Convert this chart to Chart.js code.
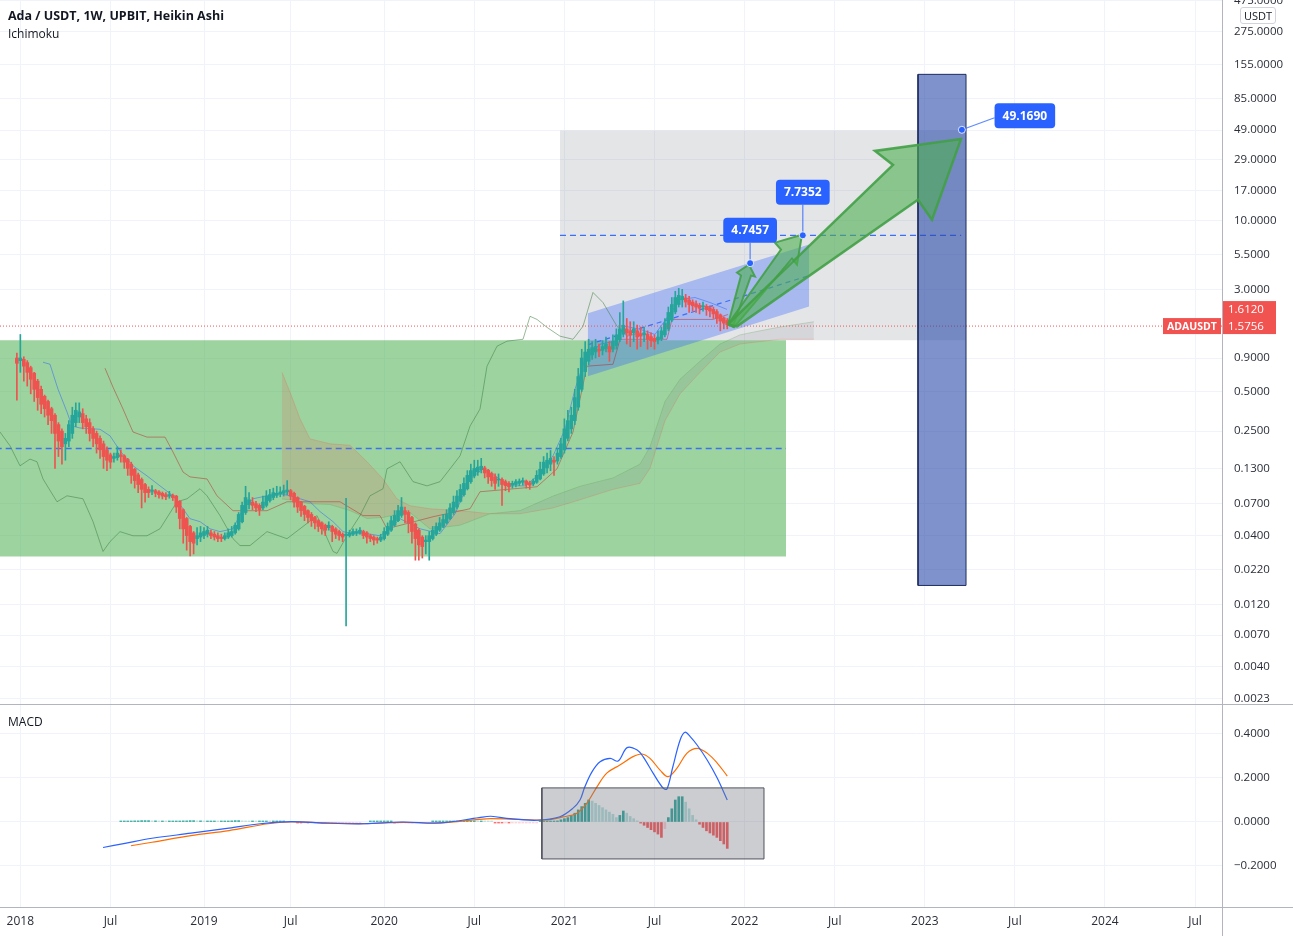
<!DOCTYPE html>
<html>
<head>
<meta charset="utf-8">
<script src="https://cdn.jsdelivr.net/npm/chart.js@4.4.1/dist/chart.umd.min.js"></script>
<style>
  html,body{margin:0;padding:0;background:#fff;}
  body{width:1293px;height:936px;position:relative;overflow:hidden;font-family:'Open Sans',Roboto,sans-serif;color:#131722;}
  canvas{position:absolute;left:0;}
  #main{top:0;}
  #macd{top:705px;}
  .hl{position:absolute;left:0;width:1293px;height:1px;background:#b2b5be;}
  .vl{position:absolute;left:1222px;top:0;width:1px;height:936px;background:#b2b5be;}
  .lbl{position:absolute;white-space:nowrap;}
</style>
</head>
<body>
<canvas id="main" width="1293" height="704"></canvas>
<canvas id="macd" width="1293" height="231"></canvas>
<div class="hl" style="top:704px"></div>
<div class="hl" style="top:907px"></div>
<div class="vl"></div>
<div class="lbl" style="left:8px;top:7px;font-size:12.5px;font-weight:700;">Ada / USDT, 1W, UPBIT, Heikin Ashi</div>
<div class="lbl" style="left:8px;top:25px;font-size:12px;">Ichimoku</div>
<div class="lbl" style="left:8px;top:713px;font-size:12px;">MACD</div>
<div class="lbl" style="left:1240px;top:7px;font-size:11px;border:1px solid #d1d4dc;border-radius:3px;padding:0 3px;line-height:15px;color:#131722;background:#fff">USDT</div>
<script>
// ---------------- DATA ----------------
// weekly Heikin Ashi candles; first candle is the week before 2018-01-01 (bar -1)
const firstBar = -1;
const O = [0.90,0.86,0.88,0.83,0.76,0.69,0.60,0.52,0.46,0.42,
0.37,0.33,0.28,0.25,0.20,0.21,0.24,0.29,0.32,0.34,
0.31,0.29,0.26,0.24,0.22,0.20,0.18,0.165,0.155,0.157,
0.165,0.162,0.152,0.14,0.128,0.116,0.107,0.098,0.09,0.087,
0.088,0.086,0.084,0.082,0.080,0.081,0.080,0.073,0.063,0.054,
0.047,0.042,0.038,0.039,0.040,0.041,0.042,0.041,0.040,0.039,
0.038,0.039,0.040,0.042,0.045,0.051,0.060,0.069,0.072,0.070,
0.068,0.065,0.068,0.074,0.078,0.081,0.083,0.084,0.086,0.088,
0.084,0.078,0.072,0.067,0.062,0.058,0.055,0.052,0.050,0.048,
0.046,0.047,0.045,0.043,0.041,0.040,0.040,0.041,0.042,0.042,
0.043,0.042,0.040,0.039,0.038,0.037,0.038,0.041,0.044,0.048,
0.052,0.057,0.062,0.060,0.055,0.049,0.044,0.039,0.036,0.036,
0.038,0.041,0.044,0.047,0.050,0.054,0.060,0.066,0.073,0.082,
0.091,0.103,0.114,0.122,0.127,0.131,0.126,0.119,0.112,0.106,
0.107,0.103,0.100,0.097,0.098,0.100,0.102,0.104,0.101,0.099,
0.102,0.108,0.118,0.131,0.140,0.150,0.148,0.160,0.180,0.220,
0.260,0.300,0.380,0.520,0.710,0.850,0.950,1.000,1.050,1.030,
1.060,1.100,1.050,1.120,1.240,1.370,1.500,1.450,1.400,1.450,
1.380,1.350,1.370,1.310,1.270,1.230,1.260,1.350,1.500,1.750,
2.020,2.300,2.500,2.580,2.490,2.400,2.330,2.270,2.210,2.230,
2.170,2.110,2.030,1.920,1.820,1.740];
const H = [0.98,1.36,0.92,0.86,0.78,0.70,0.62,0.55,0.47,0.43,
0.38,0.34,0.29,0.26,0.24,0.30,0.38,0.41,0.41,0.37,
0.33,0.31,0.27,0.25,0.23,0.21,0.19,0.17,0.17,0.19,
0.18,0.165,0.155,0.145,0.13,0.12,0.11,0.10,0.094,0.096,
0.09,0.088,0.086,0.085,0.087,0.083,0.081,0.074,0.064,0.055,
0.048,0.043,0.046,0.047,0.046,0.047,0.044,0.043,0.042,0.041,
0.042,0.045,0.047,0.050,0.060,0.072,0.095,0.085,0.078,0.073,
0.070,0.080,0.088,0.090,0.092,0.095,0.094,0.097,0.105,0.090,
0.086,0.079,0.073,0.068,0.063,0.060,0.056,0.053,0.051,0.049,
0.051,0.048,0.046,0.044,0.042,0.077,0.044,0.045,0.045,0.046,
0.044,0.043,0.041,0.040,0.039,0.041,0.046,0.050,0.056,0.062,
0.068,0.078,0.066,0.062,0.056,0.050,0.045,0.040,0.040,0.043,
0.047,0.050,0.055,0.058,0.063,0.070,0.080,0.088,0.098,0.110,
0.125,0.140,0.150,0.150,0.155,0.135,0.128,0.122,0.118,0.118,
0.110,0.106,0.103,0.104,0.107,0.108,0.110,0.106,0.104,0.108,
0.125,0.145,0.160,0.170,0.178,0.160,0.185,0.220,0.310,0.360,
0.380,0.520,0.750,1.050,1.200,1.250,1.200,1.250,1.150,1.220,
1.300,1.200,1.350,1.500,2.000,2.450,1.800,1.700,1.700,1.600,
1.550,1.550,1.450,1.400,1.350,1.450,1.550,1.800,2.200,2.600,
2.900,3.050,3.000,2.750,2.650,2.500,2.450,2.350,2.400,2.300,
2.250,2.200,2.100,1.950,1.850,1.800];
const L = [0.43,0.70,0.60,0.55,0.48,0.42,0.36,0.34,0.32,0.28,
0.24,0.13,0.16,0.14,0.15,0.19,0.22,0.27,0.29,0.26,
0.24,0.21,0.19,0.17,0.155,0.13,0.125,0.13,0.145,0.15,
0.145,0.13,0.115,0.10,0.092,0.085,0.065,0.072,0.078,0.082,
0.079,0.077,0.076,0.075,0.077,0.074,0.060,0.045,0.035,0.031,
0.028,0.029,0.034,0.036,0.038,0.039,0.038,0.037,0.036,0.036,
0.037,0.038,0.039,0.041,0.044,0.050,0.058,0.064,0.063,0.061,
0.057,0.063,0.066,0.072,0.075,0.078,0.079,0.080,0.082,0.075,
0.066,0.060,0.056,0.052,0.050,0.047,0.045,0.043,0.041,0.040,
0.044,0.036,0.038,0.037,0.036,0.0082,0.039,0.040,0.040,0.041,
0.038,0.035,0.036,0.034,0.035,0.036,0.037,0.040,0.043,0.047,
0.051,0.055,0.050,0.042,0.035,0.026,0.026,0.027,0.029,0.026,
0.037,0.040,0.043,0.046,0.049,0.053,0.058,0.064,0.072,0.080,
0.089,0.100,0.110,0.115,0.120,0.110,0.100,0.095,0.090,0.095,
0.068,0.088,0.086,0.092,0.094,0.096,0.097,0.092,0.090,0.096,
0.100,0.106,0.115,0.120,0.125,0.115,0.140,0.155,0.170,0.210,
0.240,0.280,0.360,0.500,0.650,0.800,0.880,0.900,0.920,0.950,
1.000,0.850,1.000,1.050,1.200,1.300,1.150,1.100,1.200,1.050,
1.100,1.200,1.050,1.100,1.050,1.150,1.220,1.300,1.450,1.700,
1.950,2.200,2.200,2.200,2.000,2.050,2.000,1.950,2.050,1.900,
1.850,1.800,1.650,1.450,1.500,1.500];
const C = [0.82,0.90,0.78,0.70,0.62,0.52,0.45,0.40,0.37,0.33,
0.30,0.24,0.21,0.19,0.22,0.28,0.33,0.36,0.35,0.29,
0.27,0.24,0.22,0.20,0.18,0.16,0.15,0.145,0.16,0.17,
0.16,0.145,0.13,0.115,0.105,0.098,0.09,0.085,0.085,0.089,
0.084,0.082,0.08,0.079,0.082,0.078,0.066,0.054,0.045,0.040,
0.036,0.035,0.040,0.042,0.043,0.044,0.040,0.039,0.038,0.038,
0.040,0.042,0.043,0.048,0.058,0.068,0.078,0.075,0.068,0.065,
0.063,0.072,0.080,0.082,0.085,0.084,0.086,0.088,0.089,0.080,
0.072,0.066,0.062,0.058,0.055,0.052,0.050,0.047,0.045,0.044,
0.048,0.043,0.041,0.040,0.039,0.041,0.042,0.043,0.043,0.044,
0.040,0.039,0.038,0.037,0.037,0.039,0.043,0.047,0.052,0.057,
0.062,0.066,0.058,0.050,0.043,0.038,0.034,0.033,0.037,0.040,
0.044,0.047,0.050,0.053,0.058,0.065,0.072,0.080,0.090,0.100,
0.115,0.125,0.130,0.133,0.135,0.120,0.112,0.105,0.100,0.108,
0.098,0.096,0.094,0.100,0.103,0.104,0.105,0.098,0.097,0.104,
0.115,0.128,0.145,0.150,0.155,0.145,0.170,0.200,0.260,0.300,
0.330,0.450,0.650,0.900,1.000,1.050,1.080,1.100,1.020,1.100,
1.150,1.000,1.200,1.350,1.500,1.600,1.400,1.350,1.500,1.300,
1.320,1.400,1.250,1.220,1.200,1.300,1.450,1.650,2.000,2.300,
2.600,2.700,2.650,2.400,2.300,2.250,2.200,2.150,2.250,2.100,
2.050,1.950,1.800,1.720,1.660,1.612];
const lastPrice = 1.5756;

// Ichimoku (read at sampled bars)
const convBars = [6.54,8.56,10.87,13.47,14.91,17.22,22.99,25.87,28.76,32.51,36.55,40.30,44.06,46.94,48.96,51.85,54.73,57.62,61.37,64.26,67.14,71.18,74.93,77.82,80.71,83.59,86.48,90.23,93.12,96.00,100.04,103.79,106.68,109.57,115.34,121.11,125.44,129.77,133.52,136.98,141.31,145.64,149.97,153.72,157.18,160.06,162.95,167.27,171.60,174.49,178.82,183.14,186.90,190.36,194.69,199.02,203.92];
const convVals = [0.836,0.807,0.521,0.349,0.273,0.264,0.258,0.230,0.177,0.136,0.114,0.0957,0.0804,0.0641,0.0538,0.0511,0.0451,0.0429,0.0451,0.0641,0.0763,0.0804,0.0834,0.0804,0.0763,0.0724,0.0610,0.0511,0.0429,0.0414,0.0414,0.0399,0.0451,0.0538,0.0451,0.0414,0.0587,0.108,0.129,0.114,0.0957,0.0957,0.118,0.162,0.258,0.521,0.88,1.146,1.21,1.57,1.49,1.36,1.87,2.51,2.60,2.38,2.11];
const baseBars = [24.43,26.74,29.63,32.51,36.55,41.75,44.06,46.94,48.96,53.87,56.75,61.37,71.18,76.95,92.25,98.89,103.79,105.81,119.09,129.77,132.65,149.10,154.87,159.49,163.52,171.03,173.05,186.61,188.05,199.88,204.21];
const baseVals = [0.753,0.540,0.368,0.246,0.225,0.225,0.173,0.122,0.112,0.108,0.0804,0.0619,0.0619,0.0724,0.0724,0.0568,0.0568,0.0451,0.0557,0.0641,0.0863,0.0942,0.129,0.246,0.780,0.807,1.25,1.25,1.77,1.77,1.93];
const lagBars = [-5.87,-2.98,-0.10,2.79,4.81,6.54,10.58,13.47,18.08,20.98,23.86,25.87,28.76,32.51,36.55,40.30,45.21,48.10,51.85,53.87,57.62,61.37,63.39,66.28,71.18,76.95,80.71,85.61,87.34,90.23,91.38,94.27,98.02,100.91,104.66,105.81,109.57,113.32,117.36,121.11,124.00,126.88,129.77,132.65,134.67,137.56,140.44,145.06,147.08,149.10,151.99,155.73,159.49,162.37,165.25,168.14,172.18,175.07,178.82];
const lagVals = [0.246,0.193,0.136,0.153,0.146,0.108,0.0724,0.0804,0.0763,0.0511,0.0303,0.0360,0.0429,0.0399,0.0399,0.0451,0.0724,0.0763,0.091,0.0804,0.0568,0.0379,0.0336,0.0336,0.0429,0.0379,0.0451,0.0568,0.0451,0.0303,0.0293,0.0399,0.0568,0.0804,0.091,0.129,0.146,0.103,0.0957,0.103,0.129,0.162,0.273,0.368,0.780,1.107,1.21,1.25,1.87,1.77,1.54,1.32,1.25,1.57,2.84,2.38,1.57,1.32,1.40];
const cloudBars = [75.5,77.82,80.71,83.59,89.36,95.14,100.04,104.66,108.70,112.45,118.23,126.88,135.54,144.20,153.72,161.50,171.03,178.82,181.70,186.03,190.36,196.13,201.90,207.67,213.44,219.21,229];
const spanA = [0.076,0.075,0.072,0.070,0.069,0.062,0.054,0.055,0.058,0.060,0.045,0.048,0.0587,0.062,0.080,0.095,0.11,0.14,0.19,0.42,0.62,0.85,1.15,1.35,1.45,1.55,1.70];
const spanB = [0.70,0.495,0.31,0.218,0.20,0.195,0.146,0.108,0.076,0.0676,0.064,0.062,0.0587,0.0587,0.065,0.075,0.09,0.10,0.13,0.30,0.48,0.70,1.0,1.15,1.20,1.25,1.25];

// MACD (read at sampled bars) and histogram (one value per candle from candle 30)
const macdBars = [23.86,30.2,38.0,49.25,60.2,69.2,78.1,87.9,99.2,110.1,121.4,132.4,135.8,141.3,149.1,155.7,159.5,161.5,162.9,165.0,167.3,170.2,172.5,175.1,178.0,179.7,182.6,185.5,186.6,188.3,190.4,191.8,193.3,195.3,198.2,201.1,204];
const macdVals = [-0.116,-0.097,-0.074,-0.051,-0.028,-0.008,0.002,-0.005,-0.008,0.0,-0.004,0.02,0.026,0.015,0.008,0.024,0.063,0.10,0.16,0.229,0.274,0.289,0.277,0.338,0.327,0.297,0.222,0.154,0.15,0.251,0.373,0.408,0.388,0.35,0.282,0.2,0.1];
const signalBars = [31.9,38.0,49.25,60.2,71.5,78.1,87.9,99.2,110.1,121.4,132.4,135.8,144.2,151.4,156.6,160.6,163.5,166.4,169.3,173.0,176.8,179.4,181.7,184.6,186.9,189.5,192.4,195.3,198.2,201.1,204];
const signalVals = [-0.108,-0.092,-0.062,-0.039,-0.008,0.0,-0.004,-0.007,-0.002,-0.004,0.012,0.015,0.012,0.009,0.023,0.04,0.086,0.16,0.223,0.259,0.297,0.309,0.289,0.236,0.206,0.245,0.313,0.335,0.313,0.268,0.209];
const histStartCandle = 30;
const macdHist = [0.002,0.003,0.004,0.004,0.005,0.005,0.006,0.006,0.006,0.005,0.005,0.004,0.004,0.003,0.003,0.003,
0.004,0.004,0.005,0.005,0.006,0.006,0.005,0.005,0.004,0.004,0.004,0.004,0.003,0.003,0.003,0.004,0.005,0.006,0.006,0.005,0.004,0.003,0.003,0.002,0.002,
0.002,0.002,0.001,0.001,0.001,0.001,0.001,0,0,0,
-0.001,-0.002,-0.002,-0.003,-0.003,-0.003,-0.002,-0.002,-0.002,-0.001,-0.001,-0.001,-0.001,-0.001,-0.001,-0.001,-0.001,-0.001,-0.001,0,0,0.001,0.001,0.001,0.001,
0.001,0.001,0.001,-0.001,-0.001,-0.001,-0.001,-0.001,-0.001,0,0,0,0,0,0.001,0.001,0.001,0.001,0.002,0.002,0.003,0.003,0.004,0.004,0.005,
0.005,0.005,0.004,0.004,0.003,0.002,0.001,
-0.001,-0.002,-0.003,-0.003,-0.004,-0.004,-0.004,-0.003,-0.003,-0.002,-0.002,-0.001,-0.001,
0.001,0.002,0.002,0.003,0.004,
0.005,0.01,0.015,0.02,0.028,0.04,0.055,0.07,0.085,0.10,0.095,0.085,0.075,0.065,0.055,0.045,0.035,0.02,0.03,0.05,0.04,0.025,0.015,0.005,-0.005,-0.015,-0.025,-0.035,-0.045,-0.055,-0.07,-0.03,0.02,0.06,0.10,0.115,0.115,0.09,0.06,0.03,0.01,-0.01,-0.025,-0.04,-0.05,-0.06,-0.07,-0.085,-0.10,-0.12];

// axes
const xTickBars = [0,26,53,78,105,131,157,183,209,235,261,287,313,339];
const xTickLabels = ['2018','Jul','2019','Jul','2020','Jul','2021','Jul','2022','Jul','2023','Jul','2024','Jul'];
const priceTicks = [0.0023,0.004,0.007,0.012,0.022,0.04,0.07,0.13,0.25,0.5,0.9,3,5.5,10,17,29,49,85,155,275,475];
const macdTicks = [-0.2,0,0.2,0.4];

// drawings (anchored in bar / price units)
const greenBoxBars = [-10,220.95], greenBoxPrices = [0.0277,1.228];
const greyBoxBars = [155.73,272.9], greyBoxPrices = [1.228,48.5];
const targetBars = [259.05,272.9], targetPrices = [0.0167,130];
const channelBars = [163.8,227.6], channelUpper = [1.97,6.57], channelLower = [0.655,2.22];
const arrowBigBars = [204.21,251.83,246.63,271.45,263.08,259.04,206.81];
const arrowBigPrices = [1.623,26.57,33.94,41.85,10.16,14.42,1.568];
const arrowMidBars = [204.21,219.50,217.77,225.56,224.12,222.68,205.94];
const arrowMidPrices = [1.623,6.02,6.80,7.82,4.63,5.14,1.541];
const arrowSmallBars = [204.21,207.96,206.81,210.27,212.0,210.85,205.65];
const arrowSmallPrices = [1.623,3.82,4.03,4.63,3.76,3.82,1.568];
const calloutBars = [210.6,225.8,271.7];
const calloutPrices = [4.7457,7.7352,49.169];
const macdBoxBars = [150.5,214.6], macdBoxVals = [-0.168,0.155];

// ---------------- CHART ----------------
Chart.defaults.font.family = "'Open Sans', Roboto, sans-serif";
const X_MIN = -5.87, X_MAX = 346.77, P_MIN = 0.00209, P_MAX = 478.6, M_MIN = -0.3864, M_MAX = 0.5318;
const UP = '#26A69A', DN = '#EF5350', BLUE = '#2962FF';
const GRID = '#f0f3fa', TXT = '#2a2e39';

const xy = (xs, ys) => xs.map((x, i) => ({x, y: ys[i]}));
const poly = (xs, ys) => { const p = xy(xs, ys); p.push({...p[0]}); return p; };
const rectPts = (bx, py) => poly([bx[0], bx[1], bx[1], bx[0]], [py[0], py[0], py[1], py[1]]);
const lineDS = (data, color, width, order, extra) => Object.assign({type:'line', data, borderColor:color, borderWidth:width, pointRadius:0, pointHoverRadius:0, tension:0, fill:false, order}, extra || {});
const shapeDS = (data, bg, border, width, order) => ({type:'line', data, backgroundColor:bg, borderColor:border, borderWidth:width, pointRadius:0, pointHoverRadius:0, tension:0, fill:'shape', order});
const noPad = s => { s.paddingTop = 0; s.paddingBottom = 0; s.paddingLeft = 0; s.paddingRight = 0; };

const candleColors = O.map((o, k) => C[k] >= o ? UP : DN);
const candleX = k => k + firstBar;

const ds = [];
ds.push(shapeDS(rectPts(greenBoxBars, greenBoxPrices), 'rgba(76,175,80,0.55)', 'rgba(0,0,0,0)', 0, 100));
ds.push(shapeDS(rectPts(greyBoxBars, greyBoxPrices), 'rgba(120,123,134,0.2)', 'rgba(0,0,0,0)', 0, 99));
const gm = Math.sqrt(greenBoxPrices[0] * greenBoxPrices[1]);
const grm = Math.sqrt(greyBoxPrices[0] * greyBoxPrices[1]);
ds.push(lineDS(xy(greenBoxBars, [gm, gm]), 'rgba(41,98,255,0.85)', 1.5, 98, {borderDash:[6,4]}));
ds.push(lineDS(xy([greyBoxBars[0], 271.5], [grm, grm]), 'rgba(41,98,255,0.9)', 1.3, 97, {borderDash:[6,4]}));
ds.push(shapeDS(poly([channelBars[0], channelBars[1], channelBars[1], channelBars[0]], [channelLower[0], channelLower[1], channelUpper[1], channelUpper[0]]), 'rgba(41,98,255,0.33)', 'rgba(0,0,0,0)', 0, 96));
ds.push(lineDS(xy(channelBars, [Math.sqrt(channelLower[0]*channelUpper[0]), Math.sqrt(channelLower[1]*channelUpper[1])]), 'rgba(41,98,255,0.85)', 1.2, 95, {borderDash:[5,4]}));
const spanAIndex = ds.length;
ds.push(lineDS(xy(cloudBars, spanA), 'rgba(67,160,71,0.25)', 1, 94));
ds.push(lineDS(xy(cloudBars, spanB), 'rgba(244,67,54,0.2)', 1, 93, {fill:{target:spanAIndex, above:'rgba(239,83,80,0.16)', below:'rgba(120,123,134,0.14)'}}));
ds.push(lineDS(xy(lagBars, lagVals), 'rgba(67,130,71,0.55)', 1, 92));
ds.push(lineDS(xy(baseBars, baseVals), 'rgba(183,28,28,0.45)', 1, 91));
ds.push(lineDS(xy(convBars, convVals), 'rgba(41,98,255,0.5)', 1, 90));
ds.push({type:'bar', data:O.map((o, k) => ({x:candleX(k), y:[L[k], H[k]]})), backgroundColor:candleColors, barThickness:1, grouped:false, order:21});
ds.push({type:'bar', data:O.map((o, k) => ({x:candleX(k), y:[o, C[k]]})), backgroundColor:candleColors, barThickness:3, minBarLength:1, grouped:false, order:20});
ds.push(lineDS(xy([X_MIN, X_MAX], [lastPrice, lastPrice]), DN, 1, 15, {borderDash:[1,2]}));
ds.push(shapeDS(rectPts(targetBars, targetPrices), 'rgba(41,73,170,0.6)', '#1e2c5e', 1, 10));
ds.push(shapeDS(poly(arrowSmallBars, arrowSmallPrices), 'rgba(76,175,80,0.6)', 'rgba(67,160,71,0.9)', 2, 5));
ds.push(shapeDS(poly(arrowMidBars, arrowMidPrices), 'rgba(76,175,80,0.6)', 'rgba(67,160,71,0.9)', 2, 4));
ds.push(shapeDS(poly(arrowBigBars, arrowBigPrices), 'rgba(76,175,80,0.6)', 'rgba(67,160,71,0.9)', 2.5, 3));

function roundRect(ctx, x, y, w, h, r) {
  ctx.beginPath();
  ctx.moveTo(x + r, y); ctx.lineTo(x + w - r, y); ctx.quadraticCurveTo(x + w, y, x + w, y + r);
  ctx.lineTo(x + w, y + h - r); ctx.quadraticCurveTo(x + w, y + h, x + w - r, y + h);
  ctx.lineTo(x + r, y + h); ctx.quadraticCurveTo(x, y + h, x, y + h - r);
  ctx.lineTo(x, y + r); ctx.quadraticCurveTo(x, y, x + r, y); ctx.closePath();
}

const calloutOffsets = [[0, -33], [0, -43], [63, -14]];
const annotPlugin = {
  id: 'annot',
  afterDraw(chart) {
    const {ctx, scales:{x, y}} = chart;
    ctx.save();
    ctx.font = "bold 12px 'Open Sans', Roboto, sans-serif";
    ctx.textAlign = 'center'; ctx.textBaseline = 'middle';
    calloutBars.forEach((b, i) => {
      const px = x.getPixelForValue(b), py = y.getPixelForValue(calloutPrices[i]);
      const [dx, dy] = calloutOffsets[i];
      const text = calloutPrices[i].toFixed(4);
      const w = ctx.measureText(text).width + 16, h = 25;
      const bx = px + dx, by = py + dy;
      ctx.strokeStyle = 'rgba(41,98,255,0.75)'; ctx.lineWidth = 1.2;
      ctx.beginPath(); ctx.moveTo(px, py);
      if (dx === 0) ctx.lineTo(px, by + h / 2); else ctx.lineTo(bx - w / 2, by + 2);
      ctx.stroke();
      ctx.fillStyle = BLUE; roundRect(ctx, bx - w / 2, by - h / 2, w, h, 4); ctx.fill();
      ctx.fillStyle = '#fff'; ctx.fillText(text, bx, by + 0.5);
      ctx.beginPath(); ctx.arc(px, py, 3.5, 0, Math.PI * 2);
      ctx.fillStyle = BLUE; ctx.fill(); ctx.strokeStyle = 'rgba(255,255,255,0.8)'; ctx.lineWidth = 1; ctx.stroke();
    });
    const py = y.getPixelForValue(lastPrice);
    ctx.fillStyle = '#F05350';
    ctx.fillRect(1223, py - 25, 53, 33);
    ctx.fillRect(1163, py - 8, 58, 16);
    ctx.fillStyle = '#fff';
    ctx.font = "11.5px 'Open Sans', Roboto, sans-serif";
    ctx.textAlign = 'left';
    ctx.fillText(C[C.length - 1].toFixed(4), 1228, py - 16);
    ctx.fillText(lastPrice.toFixed(4), 1228, py + 0.5);
    ctx.font = "bold 10.5px 'Open Sans', Roboto, sans-serif";
    ctx.textAlign = 'center';
    ctx.fillText('ADAUSDT', 1192, py + 0.5);
    ctx.restore();
  }
};

new Chart(document.getElementById('main'), {
  type: 'bar',
  data: {datasets: ds},
  options: {
    responsive:false, maintainAspectRatio:false, animation:false, events:[],
    layout:{padding:0},
    plugins:{legend:{display:false}, tooltip:{enabled:false}},
    scales: {
      x: {type:'linear', min:X_MIN, max:X_MAX, offset:false,
          grid:{color:GRID, drawTicks:false, offset:false}, border:{display:false},
          ticks:{display:false},
          afterBuildTicks: s => { s.ticks = xTickBars.map(v => ({value:v})); },
          afterFit: s => { s.height = 0; noPad(s); }},
      y: {type:'logarithmic', position:'right', min:P_MIN, max:P_MAX,
          grid:{color:GRID, drawTicks:false}, border:{display:false},
          ticks:{padding:12, color:TXT, font:{size:11.5}, autoSkip:false, callback: v => Number(v).toFixed(4)},
          afterBuildTicks: s => { s.ticks = priceTicks.map(v => ({value:v})); },
          afterFit: s => { s.width = 71; noPad(s); }}
    }
  },
  plugins: [annotPlugin]
});

const histColors = macdHist.map((v, j) => {
  const prev = j > 0 ? macdHist[j - 1] : 0;
  if (v >= 0) return v >= prev ? '#26A69A' : '#B2DFDB';
  return v < prev ? '#FF5252' : '#FFCDD2';
});
const mds = [];
mds.push({type:'bar', data:macdHist.map((v, j) => ({x:candleX(histStartCandle + j), y: v === 0 ? null : v})), backgroundColor:histColors, barThickness:2, minBarLength:1, grouped:false, order:10});
mds.push(lineDS(xy(macdBars, macdVals), BLUE, 1.2, 8, {tension:0.35}));
mds.push(lineDS(xy(signalBars, signalVals), '#FF6D00', 1.2, 9, {tension:0.35}));
mds.push(shapeDS(rectPts(macdBoxBars, macdBoxVals), 'rgba(120,123,134,0.38)', '#50535e', 1, 1));

new Chart(document.getElementById('macd'), {
  type: 'bar',
  data: {datasets: mds},
  options: {
    responsive:false, maintainAspectRatio:false, animation:false, events:[],
    layout:{padding:0},
    plugins:{legend:{display:false}, tooltip:{enabled:false}},
    scales: {
      x: {type:'linear', min:X_MIN, max:X_MAX, offset:false,
          grid:{color:GRID, drawTicks:false, offset:false}, border:{display:false},
          ticks:{padding:7, color:TXT, font:{size:12}, autoSkip:false, maxRotation:0, callback: (v, i) => xTickLabels[i]},
          afterBuildTicks: s => { s.ticks = xTickBars.map(v => ({value:v})); },
          afterFit: s => { s.height = 29; noPad(s); }},
      y: {type:'linear', position:'right', min:M_MIN, max:M_MAX,
          grid:{color:GRID, drawTicks:false}, border:{display:false},
          ticks:{padding:12, color:TXT, font:{size:11.5}, autoSkip:false,
                 callback: v => (v < 0 ? '\u2212' + Math.abs(v).toFixed(4) : Number(v).toFixed(4))},
          afterBuildTicks: s => { s.ticks = macdTicks.map(v => ({value:v})); },
          afterFit: s => { s.width = 71; noPad(s); }}
    }
  }
});
</script>
</body>
</html>
